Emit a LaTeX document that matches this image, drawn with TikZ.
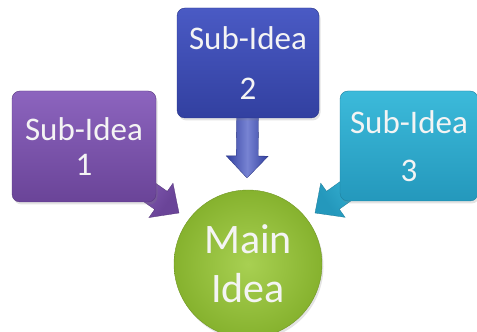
\documentclass[tikz,border=0pt]{standalone}
\usepackage{fontspec}
\setmainfont{Carlito}
\usetikzlibrary{calc,shadows,backgrounds}
\definecolor{pTop}{RGB}{140,100,190}
\definecolor{pBot}{RGB}{106,68,152}
\definecolor{bTop}{RGB}{74,90,196}
\definecolor{bBot}{RGB}{50,64,160}
\definecolor{cTop}{RGB}{60,186,218}
\definecolor{cBot}{RGB}{36,152,188}
\definecolor{gIn}{RGB}{168,208,82}
\definecolor{gOut}{RGB}{134,178,46}
\definecolor{txt}{RGB}{244,244,244}
\tikzset{
  ideabox/.style 2 args={rounded corners=8pt, minimum width=#1, minimum height=#2,
    inner sep=0pt, align=center, text=txt, line width=0.4pt,
    drop shadow={shadow xshift=1.5pt, shadow yshift=-2.5pt, opacity=0.22}},
  arrowfill/.style 2 args={left color=#1, right color=#1, middle color=#2, draw=#1!80!black, line width=0.3pt},
}
\newcommand\blockarrow[4]{%
  \coordinate (#3) at ($(#2)!22pt!(#1)$);
  \path[#4] ($(#1)!11pt!90:(#2)$) -- ($(#3)!11pt!90:(#2)$) -- ($(#3)!21pt!90:(#2)$)
    -- (#2) -- ($(#3)!21pt!-90:(#2)$) -- ($(#3)!11pt!-90:(#2)$) -- ($(#1)!11pt!-90:(#2)$) -- cycle;
}
\begin{document}
\begin{tikzpicture}[x=1pt,y=1pt]
  \useasboundingbox (0,0) rectangle (477,332);
  \clip (0,0) rectangle (477,332);
  \node[ideabox={144pt}{111pt}, top color=pTop, bottom color=pBot, draw=pBot!85!black,
        font=\fontsize{33}{35}\selectfont] (b1) at (84,185.5) {Sub-Idea\\1};
  \node[ideabox={142pt}{110pt}, top color=bTop, bottom color=bBot, draw=bBot!85!black,
        font=\fontsize{33}{50}\selectfont] (b2) at (248,269) {Sub-Idea\\2};
  \node[ideabox={138pt}{110pt}, top color=cTop, bottom color=cBot, draw=cBot!85!black,
        font=\fontsize{33}{48}\selectfont] (b3) at (409,186) {Sub-Idea\\3};
  \node[circle, minimum size=148pt, inner sep=0pt, inner color=gIn, outer color=gOut,
        draw=gOut!85!black, line width=0.4pt, align=center, text=txt,
        font=\fontsize{42}{49}\selectfont,
        drop shadow={shadow xshift=1.5pt, shadow yshift=-2.5pt, opacity=0.22}] (main) at (248,68) {Main\\Idea};
  \coordinate (t1) at (179,119);
  \coordinate (t2) at (247,154);
  \coordinate (t3) at (315,119);
  \begin{scope}[on background layer]
    \blockarrow{b1.center}{t1}{h1}{arrowfill={pBot}{pTop}, shading angle=55}
    \blockarrow{b2.center}{t2}{h2}{arrowfill={bBot}{bTop!75!white}}
    \blockarrow{b3.center}{t3}{h3}{arrowfill={cBot}{cTop}, shading angle=-55}
  \end{scope}
\end{tikzpicture}
\end{document}
